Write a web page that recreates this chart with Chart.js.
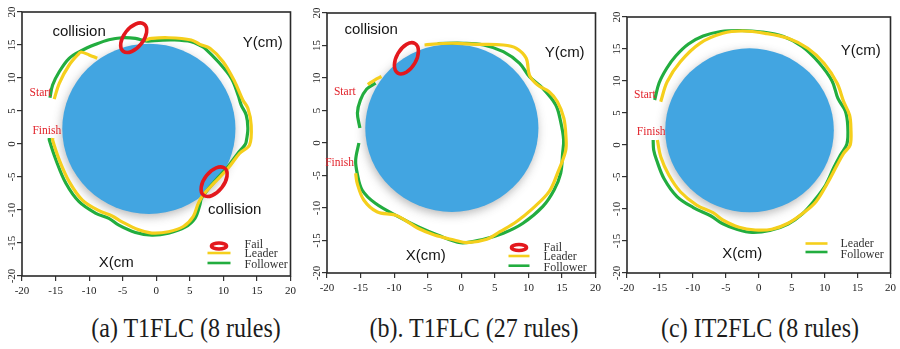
<!DOCTYPE html>
<html>
<head>
<meta charset="utf-8">
<script src="https://cdn.jsdelivr.net/npm/chart.js@4.4.1/dist/chart.umd.min.js"></script>
<style>
  html, body { margin: 0; padding: 0; background: #ffffff; }
  #figure { position: relative; width: 900px; height: 349px; overflow: hidden; background: #ffffff; }
  .panel { position: absolute; top: 0; }
  .caption {
    position: absolute; top: 313px; width: 300px; text-align: center;
    font-family: "Liberation Serif", "Times New Roman", serif; font-size: 24px;
    color: #1c1c1c; white-space: nowrap; transform: scaleY(1.12); transform-origin: 50% 0;
  }
</style>
</head>
<body>
<div id="figure">
  <canvas id="panelA" class="panel" style="left:0px" width="300" height="300"></canvas>
  <canvas id="panelB" class="panel" style="left:300px" width="305" height="300"></canvas>
  <canvas id="panelC" class="panel" style="left:605px" width="295" height="300"></canvas>
  <div class="caption" style="left:36px">(a) T1FLC (8 rules)</div>
  <div class="caption" style="left:324px">(b). T1FLC (27 rules)</div>
  <div class="caption" style="left:610px">(c) IT2FLC (8 rules)</div>
</div>
<script>
// Axis ticks shared by all three panels (cm)
const tickValues = [-20, -15, -10, -5, 0, 5, 10, 15, 20];
const tickLabels = ['-20', '-15', '-10', '-5', '0', '5', '10', '15', '20'];

// Obstacle: [centre x, centre y, radius] in cm
const obstacleA = [-1.1, 2.3, 12.9];
const obstacleB = [-1.4, 2.3, 12.9];
const obstacleC = [-1.4, 2.3, 12.8];

// Trajectories [x, y] in cm; null marks a stretch hidden behind the obstacle
const leaderA = [
  [-15.2, 6.8], [-14.45, 9.2], [-12.97, 11.97], [-11.5, 13.74], [-11.2, 13.94],
  [-10.0, 13.5], [-8.79, 13.0], null,
  [-1.63, 15.76], [-0.7, 16.0], [1.82, 16.1], [5.22, 15.76], [6.5, 15.1],
  [8.0, 14.5], [9.96, 12.47], [11.69, 9.44], [12.9, 6.67], [13.65, 5.4],
  [14.14, 2.88], [13.9, -0.15], [12.43, -1.4], [10.7, -3.68], [8.62, -5.9],
  [7.0, -7.7], [6.26, -9.0], [5.5, -11.0], [4.04, -12.5], [1.82, -13.3],
  [-0.65, -13.5], [-2.62, -13.0], [-5.09, -11.8], [-6.57, -10.9], [-8.54, -10.1],
  [-11.0, -8.5], [-12.97, -5.7], [-14.45, -2.4], [-15.44, 0.6], [-15.4, 0.9]
];
const followerA = [
  [-15.83, 7.0], [-15.44, 8.94], [-14.45, 10.95], [-12.97, 12.98], [-11.24, 14.09],
  [-9.02, 15.1], [-7.06, 15.8], [-5.09, 16.1], [-3.1, 16.0], [-1.39, 15.6],
  [0.34, 15.7], [2.56, 15.76], [5.2, 15.5], [6.7, 14.85], [7.25, 14.5],
  [9.2, 12.5], [11.2, 9.95], [12.2, 7.4], [12.66, 5.9], [13.4, 4.4],
  [13.65, 2.4], [13.4, 0.35], [13.2, -0.15], [12.17, -1.4], [10.7, -3.4],
  [8.6, -5.76], [6.75, -8.2], [6.5, -9.2], [5.77, -11.26], [4.29, -12.6],
  [1.82, -13.5], [-0.65, -13.8], [-3.1, -13.4], [-5.58, -12.3], [-7.06, -11.26],
  [-9.0, -10.5], [-11.5, -8.74], [-13.46, -5.95], [-14.94, -2.42], [-15.93, 0.6],
  [-15.93, 0.9]
];

const leaderB = [
  [-13.93, 9.0], [-12.9, 9.69], [-11.88, 10.23], null,
  [-5.47, 15.08], [-2.79, 15.31], [-0.59, 15.34], [2.35, 15.18], [6.26, 15.08],
  [8.21, 14.57], [9.68, 13.03], [10.16, 10.46], [11.39, 8.92], [13.09, 7.89],
  [14.33, 6.35], [15.29, 3.8], [15.6, 0.9], [15.55, -1.2],
  [14.33, -4.66], [13.09, -7.49], [10.66, -10.05], [8.21, -12.11], [5.76, -13.65],
  [3.81, -14.82], [0.88, -15.34], [-1.07, -14.92], [-4.0, -14.15], [-6.45, -13.12],
  [-8.4, -11.85], [-9.87, -11.08], [-12.57, -10.57], [-14.52, -8.77], [-15.5, -6.2],
  [-15.73, -4.66]
];
const followerB = [
  [-15.1, 2.3], [-15.47, 4.6], [-15.03, 6.6], [-14.08, 8.3], [-12.76, 9.2], null,
  [-3.52, 15.31], [0.4, 15.34], [3.33, 15.08], [6.26, 14.05], [8.7, 12.26],
  [10.16, 10.2], [12.13, 8.42], [14.08, 5.85], [14.81, 3.28], [15.25, 0.5],
  [15.1, -1.6], [14.81, -4.66], [13.83, -7.23], [12.13, -9.8], [9.19, -12.35],
  [6.26, -13.89], [3.33, -14.8], [-0.1, -15.34], [-3.52, -14.15], [-6.45, -12.88],
  [-9.38, -11.34], [-12.8, -9.28], [-14.77, -7.23], [-15.5, -4.66], [-15.73, -2.62],
  [-15.25, 0.0]
];

const leaderC = [
  [-14.88, 6.77], [-13.9, 9.89], [-11.9, 13.02], [-8.93, 15.89], [-5.46, 17.45],
  [-2.49, 17.81], [0.98, 17.45], [4.46, 16.67], [7.44, 15.11], [9.91, 12.77],
  [11.9, 9.64], [12.89, 6.77], [13.78, 4.69], [13.99, 2.61], [13.88, 0.0],
  [12.89, -1.3], [11.9, -3.13], [10.42, -5.98], [8.68, -8.86], [6.7, -10.67],
  [4.46, -12.23], [1.98, -13.17], [-0.51, -13.28], [-2.98, -12.86], [-5.46, -11.72],
  [-6.95, -10.58], [-9.43, -9.38], [-11.9, -7.3], [-13.65, -4.69], [-14.88, -1.83],
  [-15.39, 0.78]
];
const followerC = [
  [-15.8, 7.03], [-15.13, 9.69], [-13.94, 12.03], [-12.6, 13.91], [-10.67, 15.78],
  [-8.44, 17.03], [-5.76, 17.73], [-2.78, 17.89], [0.49, 17.66], [3.76, 16.95],
  [6.59, 15.39], [9.12, 12.89], [11.13, 10.0], [12.02, 7.27], [13.14, 5.31],
  [13.51, 2.97], [13.39, 0.16], [12.4, -1.56], [11.4, -3.52], [10.16, -6.25],
  [8.38, -8.75], [6.59, -10.78], [4.46, -12.34], [1.68, -13.36], [-1.0, -13.67],
  [-3.23, -13.2], [-5.61, -12.23], [-7.25, -11.09], [-9.93, -9.77], [-12.41, -8.05],
  [-14.39, -5.23], [-15.51, -2.34], [-15.95, -0.78], [-16.03, 0.78]
];

// Failure (collision) spots: [x, y] in cm
const failsA = [[-3.36, 16.1], [8.62, -5.71]];
const failsB = [[-8.17, 13.03]];
const failsC = [];

// ---- styling ----
const YELLOW = '#f5cf1c';
const GREEN = '#22ad3f';
const BLUE = '#42a5e1';
const RED = '#e3181d';
const SANS = '15px "Liberation Sans", Arial, sans-serif';
const SERIF_SMALL = '11.5px "Liberation Serif", "Times New Roman", serif';
const SERIF_LEGEND = '12px "Liberation Serif", "Times New Roman", serif';
const SERIF_TICK = '11px "Liberation Serif", "Times New Roman", serif';

const toPoints = arr => arr.map(p => p ? { x: p[0], y: p[1] } : { x: null, y: null });

// Draws obstacle, failure ellipses, frame, rotated y labels, notes and legend
const panelDecor = {
  id: 'panelDecor',
  beforeDatasetsDraw(chart, args, opts) {
    const { ctx, scales: { x, y } } = chart;
    const [cx0, cy0, r] = opts.obstacle;
    const cx = x.getPixelForValue(cx0), cy = y.getPixelForValue(cy0);
    const rx = Math.abs(x.getPixelForValue(cx0 + r) - cx);
    const ry = Math.abs(y.getPixelForValue(cy0 + r) - cy);
    ctx.save();
    ctx.shadowColor = 'rgba(70,70,70,0.38)';
    ctx.shadowBlur = 10;
    ctx.shadowOffsetX = -1;
    ctx.shadowOffsetY = 3;
    ctx.fillStyle = BLUE;
    ctx.beginPath();
    ctx.ellipse(cx, cy, rx, ry, 0, 0, Math.PI * 2);
    ctx.fill();
    ctx.restore();
  },
  afterDatasetsDraw(chart, args, opts) {
    const { ctx, scales: { x, y } } = chart;
    const unit = Math.abs(x.getPixelForValue(1) - x.getPixelForValue(0));
    ctx.save();
    ctx.strokeStyle = RED;
    ctx.lineWidth = 3.6;
    opts.fails.forEach(f => {
      ctx.beginPath();
      ctx.ellipse(x.getPixelForValue(f[0]), y.getPixelForValue(f[1]),
        opts.failSize[0] * unit, opts.failSize[1] * unit, -opts.failTilt * Math.PI / 180, 0, Math.PI * 2);
      ctx.stroke();
    });
    ctx.restore();
  },
  afterDraw(chart, args, opts) {
    const { ctx, chartArea: a, scales: { x, y } } = chart;
    ctx.save();
    // frame
    ctx.strokeStyle = '#2a2a2a';
    ctx.lineWidth = 1.6;
    ctx.strokeRect(a.left, a.top, a.right - a.left, a.bottom - a.top);
    // y tick labels, reading bottom to top
    ctx.fillStyle = '#222';
    ctx.font = SERIF_TICK;
    ctx.textAlign = 'center';
    ctx.textBaseline = 'middle';
    tickValues.forEach((v, i) => {
      ctx.save();
      ctx.translate(a.left - 10, y.getPixelForValue(v));
      ctx.rotate(-Math.PI / 2);
      ctx.fillText(tickLabels[i], 0, 0);
      ctx.restore();
    });
    // notes
    opts.notes.forEach(n => {
      ctx.font = n.font;
      ctx.fillStyle = n.color;
      ctx.textAlign = n.align;
      ctx.textBaseline = 'middle';
      ctx.fillText(n.text, x.getPixelForValue(n.x), y.getPixelForValue(n.y));
    });
    // legend
    const L = opts.legend;
    const lx0 = a.right + L.x0, lx1 = a.right + L.x1, tx = a.right + L.tx;
    ctx.font = SERIF_LEGEND;
    ctx.textAlign = 'left';
    ctx.textBaseline = 'middle';
    L.rows.forEach(row => {
      const ly = a.bottom + row.dy;
      if (row.kind === 'Fail') {
        ctx.strokeStyle = RED;
        ctx.lineWidth = 3.6;
        ctx.beginPath();
        ctx.ellipse((lx0 + lx1) / 2, ly, 7.5, 3, 0, 0, Math.PI * 2);
        ctx.stroke();
      } else {
        ctx.strokeStyle = row.kind === 'Leader' ? YELLOW : GREEN;
        ctx.lineWidth = 2.6;
        ctx.beginPath();
        ctx.moveTo(lx0, ly);
        ctx.lineTo(lx1, ly);
        ctx.stroke();
      }
      ctx.fillStyle = '#333';
      ctx.fillText(row.kind, tx, ly + (row.tdy || 0));
    });
    ctx.restore();
  }
};

function makePanel(id, p) {
  const axisBase = {
    type: 'linear',
    min: -20,
    max: 20,
    afterBuildTicks: s => { s.ticks = tickValues.map(v => ({ value: v })); },
    border: { display: false },
    grid: { drawOnChartArea: false, drawTicks: true, tickLength: 5, color: '#333', lineWidth: 1.2 }
  };
  return new Chart(document.getElementById(id), {
    type: 'scatter',
    data: {
      datasets: [
        { label: 'Leader', data: toPoints(p.leader), showLine: true, borderColor: YELLOW,
          borderWidth: 3.2, pointRadius: 0, tension: 0.35, spanGaps: false },
        { label: 'Follower', data: toPoints(p.follower), showLine: true, borderColor: GREEN,
          borderWidth: 3.2, pointRadius: 0, tension: 0.35, spanGaps: false }
      ]
    },
    options: {
      responsive: false,
      animation: false,
      events: [],
      layout: { padding: { left: 0, right: p.padRight, top: p.padTop, bottom: 0 } },
      plugins: {
        legend: { display: false },
        tooltip: { enabled: false },
        panelDecor: {
          obstacle: p.obstacle, fails: p.fails, failSize: [2.55, 1.45], failTilt: p.failTilt,
          notes: p.notes, legend: p.legend
        }
      },
      scales: {
        x: Object.assign({}, axisBase, {
          position: 'bottom',
          afterFit: s => { s.height = p.xAxisHeight; },
          ticks: { padding: 4, color: '#222', font: { family: '"Liberation Serif", "Times New Roman", serif', size: 11 },
                   callback: v => tickLabels[tickValues.indexOf(v)] }
        }),
        y: Object.assign({}, axisBase, {
          position: 'left',
          afterFit: s => { s.width = p.yAxisWidth; },
          ticks: { display: false }
        })
      }
    },
    plugins: [panelDecor]
  });
}

const note = (text, x, y, font, color, align) => ({ text, x, y, font, color, align });
const INK = '#141414';
const START_RED = '#e2242c';

makePanel('panelA', {
  leader: leaderA, follower: followerA, obstacle: obstacleA, fails: failsA, failTilt: 52,
  yAxisWidth: 22, xAxisHeight: 24, padRight: 7, padTop: 12,
  notes: [
    note('collision', -11.5, 16.97, SANS, INK, 'center'),
    note('Y(cm)', 15.87, 15.38, SANS, INK, 'center'),
    note('collision', 11.69, -10.0, SANS, INK, 'center'),
    note('X(cm', -5.95, -17.95, SANS, INK, 'center'),
    note('Start', -15.64, 7.8, SERIF_SMALL, START_RED, 'right'),
    note('Finish', -14.16, 1.97, SERIF_SMALL, START_RED, 'right')
  ],
  legend: { x0: -83, x1: -60, tx: -46, rows: [
    { kind: 'Fail', dy: -30, tdy: -1 }, { kind: 'Leader', dy: -23, tdy: 1 }, { kind: 'Follower', dy: -13, tdy: 2 }
  ] }
});

makePanel('panelB', {
  leader: leaderB, follower: followerB, obstacle: obstacleB, fails: failsB, failTilt: 60,
  yAxisWidth: 27, xAxisHeight: 27, padRight: 6, padTop: 13,
  notes: [
    note('collision', -13.42, 17.38, SANS, INK, 'center'),
    note('Y(cm)', 15.4, 13.92, SANS, INK, 'center'),
    note('X(cm)', -5.28, -17.38, SANS, INK, 'center'),
    note('Start', -15.73, 7.85, SERIF_SMALL, START_RED, 'right'),
    note('Finish', -15.98, -3.08, SERIF_SMALL, START_RED, 'right')
  ],
  legend: { x0: -87, x1: -66, tx: -52, rows: [
    { kind: 'Fail', dy: -25.5, tdy: 0 }, { kind: 'Leader', dy: -17, tdy: 1 }, { kind: 'Follower', dy: -7.3, tdy: 2 }
  ] }
});

makePanel('panelC', {
  leader: leaderC, follower: followerC, obstacle: obstacleC, fails: failsC, failTilt: 55,
  yAxisWidth: 22, xAxisHeight: 27, padRight: 5, padTop: 17,
  notes: [
    note('Y(cm)', 15.5, 14.7, SANS, INK, 'center'),
    note('X(cm)', -2.49, -17.0, SANS, INK, 'center'),
    note('Start', -15.63, 7.86, SERIF_SMALL, START_RED, 'right'),
    note('Finish', -14.14, 2.08, SERIF_SMALL, START_RED, 'right')
  ],
  legend: { x0: -85, x1: -63, tx: -50, rows: [
    { kind: 'Leader', dy: -29.5, tdy: 0.5 }, { kind: 'Follower', dy: -21, tdy: 3 }
  ] }
});
</script>
</body>
</html>
